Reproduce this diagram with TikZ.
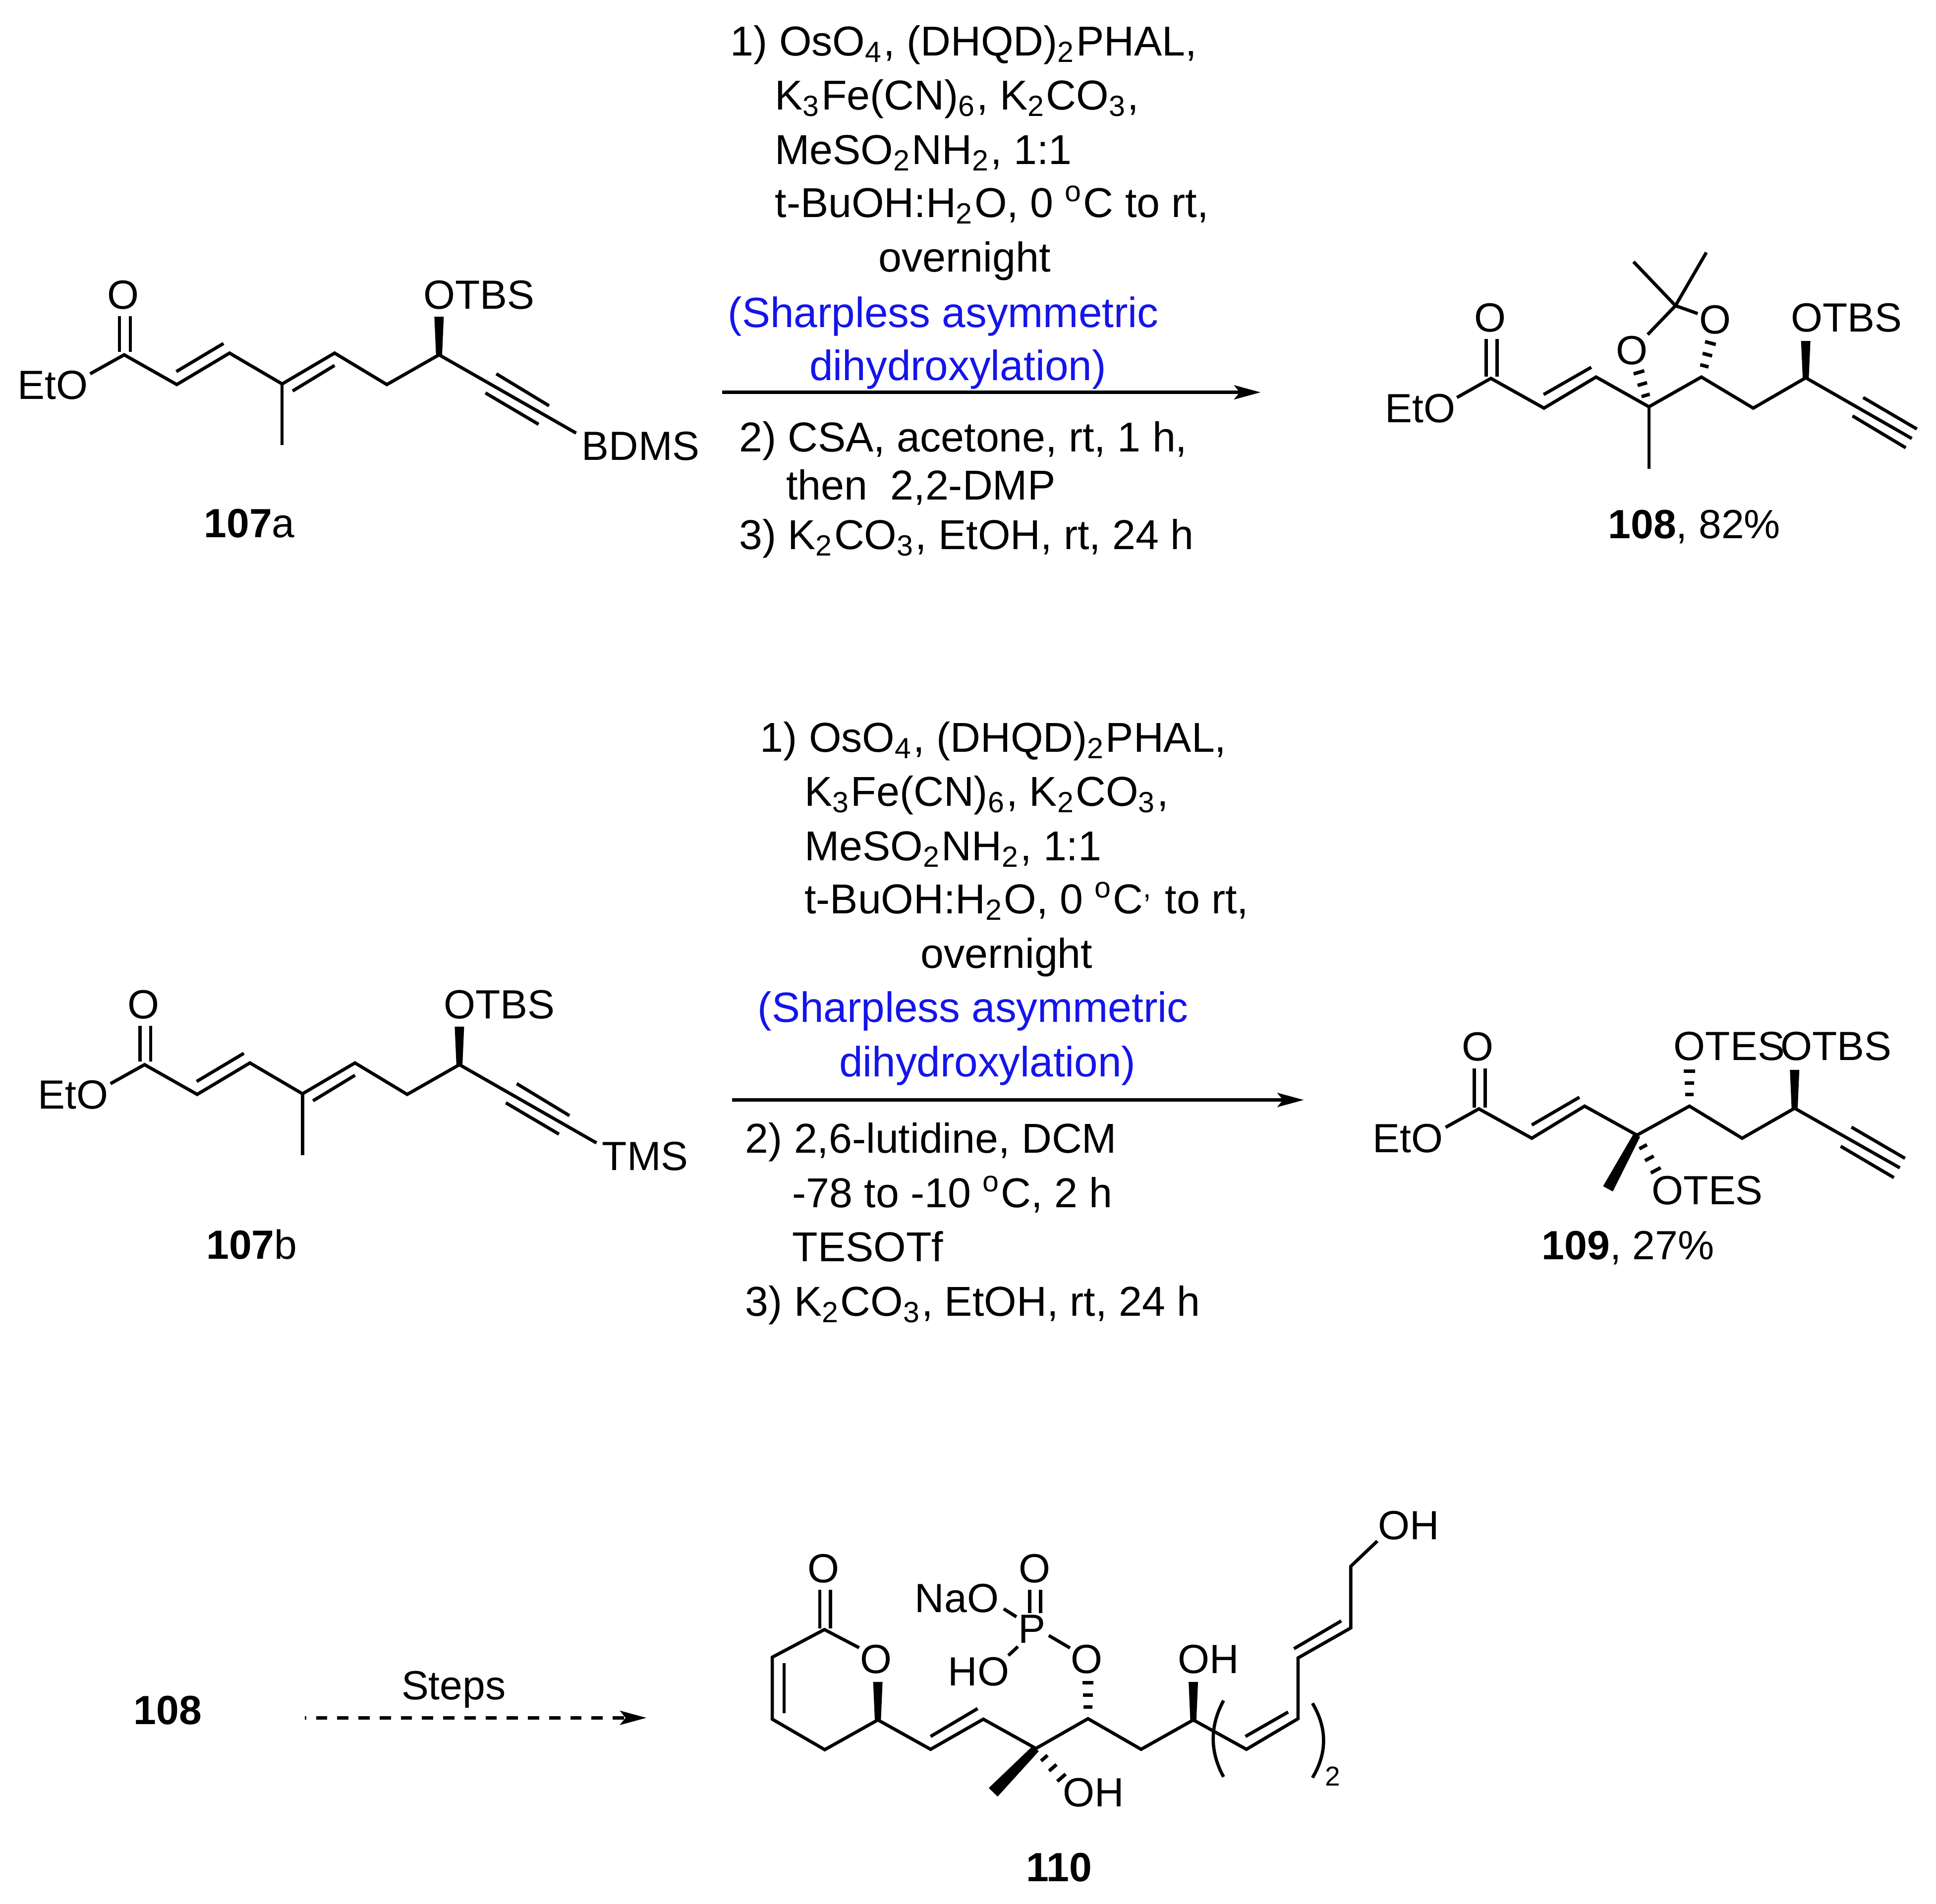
\documentclass[tikz,border=0pt]{standalone}
\usepackage{fontspec}
\setmainfont{Liberation Sans}
\usetikzlibrary{arrows.meta, calc}
\definecolor{bluNote}{RGB}{20,20,235}
\tikzset{
    bond/.style = {line width = 0.75pt},
    hashmark/.style = {line width = 0.8pt},
    atom/.style = {font = \fontsize{9.39}{11}\selectfont, inner sep = 0pt, anchor = base west, xshift = -0.015cm, yshift = 0.003cm},
    reagent/.style = {font = \fontsize{9.62}{11}\selectfont, inner sep = 0pt, anchor = base west, xshift = -0.01cm, yshift = 0.01cm},
    note/.style = {reagent, font = \fontsize{9.75}{11}\selectfont, text = bluNote},
    reaction/.style = {line width = 0.75pt, -{Stealth[length = 0.214cm, width = 0.114cm, inset = 0.045cm]}}
}
% #1 narrow end, #2 wide end, #3 half width
\newcommand{\wedgeBond}[3]{
\fill ($(#2)!#3!90:(#1)$) -- ($(#1)!0.65*#3!-90:(#2)$) -- ($(#1)!0.65*#3!90:(#2)$) -- ($(#2)!#3!-90:(#1)$) -- cycle;
}
% #1 apex, #2 last mark
\newcommand{\hashBond}[2]{
\foreach \frazione in {0.33, 0.66, 1} {
    \pgfmathsetmacro{\semi}{0.03 + 0.015*\frazione}
    \coordinate (hmark) at ($(#1)!\frazione!(#2)$);
    \draw[hashmark] ($(hmark)!\semi cm!90:(#1)$) -- ($(hmark)!\semi cm!-90:(#1)$);
}
}
% #1 name prefix, #2 #3 shift, #4 silyl group, #5 left of its text
\newcommand{\dienyne}[5]{
\begin{scope}[shift = {(#2,#3)}]
    \coordinate (#1co) at (100.6,287.4);
    \coordinate (#1a) at (143.2,311.5);
    \coordinate (#1b) at (185.9,286);
    \coordinate (#1c) at (228.5,311);
    \coordinate (#1d) at (271,286);
    \coordinate (#1e) at (313.3,311.5);
    \coordinate (#1f) at (355.6,287.4);
    \coordinate (#1g) at (466.6,350.8);
    \coordinate (#1me) at (228.5,360.6);
    \coordinate (#1oe) at (73,302.8);
    \coordinate (#1wt) at (355.6,256.6);
    \node[atom] (#1oxo) at (87.8,250.4) {O};
    \node[atom] (#1eto) at (15,323.6) {EtO};
    \node[atom] (#1otbs) at (343.7,250.4) {OTBS};
    \node[atom] (#1si) at (#5,373.2) {#4};
    \draw[bond] (#1oe) -- (#1co) -- (#1a) -- (#1b) -- (#1c) -- (#1d) -- (#1e) -- (#1f) -- (#1g);
    \draw[bond] (#1c) -- (#1me);
    \draw[bond] (96.8,256) -- (96.8,285);
    \draw[bond] (105.6,256) -- (105.6,285);
    \draw[bond] (142.8,301) -- (181,278.2);
    \draw[bond] (237,316.7) -- (271,296);
    \draw[bond] (402,302.8) -- (444.7,328.7);
    \draw[bond] (393.2,318.3) -- (436.2,343.7);
    \wedgeBond{#1f}{#1wt}{0.038cm}
\end{scope}
}
\begin{document}
\begin{tikzpicture}[x = 0.01cm, y = -0.01cm]
    \useasboundingbox (0,0) rectangle (1568,1542);
    % 107a and 107b
    \dienyne{ka}{0}{0}{BDMS}{472}
    \node[atom] (labelka) at (166,435.5) {\textbf{107}a};
    \dienyne{kb}{16.5}{575}{TMS}{472}
    \node[atom] (labelkb) at (168,1020) {\textbf{107}b};
    % first reaction
    \node[reagent] (ra1) at (592,46) {1) OsO\textsubscript{4}, (DHQD)\textsubscript{2}PHAL,};
    \node[reagent] (ra2) at (628,90) {K\textsubscript{3}Fe(CN)\textsubscript{6}, K\textsubscript{2}CO\textsubscript{3},};
    \node[reagent] (ra3) at (628,134) {MeSO\textsubscript{2}NH\textsubscript{2}, 1:1};
    \node[reagent] (ra4) at (628,177) {t-BuOH:H\textsubscript{2}O, 0 \textsuperscript{o}C to rt,};
    \node[reagent] (ra5) at (712,221) {overnight};
    \node[note] (ra6) at (590,266) {(Sharpless asymmetric};
    \node[note] (ra7) at (656,309) {dihydroxylation)};
    \node[reagent] (ra8) at (599,367) {2) CSA, acetone, rt, 1 h,};
    \node[reagent] (ra9) at (637,406) {then\ \ 2,2-DMP};
    \node[reagent] (ra10) at (599,446) {3) K\textsubscript{2}CO\textsubscript{3}, EtOH, rt, 24 h};
    \coordinate (freccia1a) at (585,317.8);
    \coordinate (freccia1b) at (1021,317.8);
    \draw[reaction] (freccia1a) -- (freccia1b);
    % 108
    \coordinate (oc1) at (1207.5,306.5);
    \coordinate (oc2) at (1250.5,330.6);
    \coordinate (oc3) at (1292.7,305.4);
    \coordinate (oc4) at (1335.5,329.5);
    \coordinate (oc5) at (1378,305.4);
    \coordinate (oc6) at (1420,330.6);
    \coordinate (oc7) at (1462.5,306);
    \coordinate (oc8) at (1548.4,355.2);
    \coordinate (ome) at (1335.5,379.8);
    \coordinate (oeto) at (1180,322);
    \coordinate (oketal) at (1357,247.6);
    \coordinate (ome1) at (1323,212);
    \coordinate (ome2) at (1382,204.5);
    \coordinate (okl) at (1334.5,271);
    \coordinate (okr) at (1375,254);
    \coordinate (owt) at (1462.5,276.2);
    \coordinate (ohl) at (1327.4,301.6);
    \coordinate (ohr) at (1385.3,277.9);
    \node[atom] (oxoo) at (1194.7,269.2) {O};
    \node[atom] (oeth) at (1122.6,342.4) {EtO};
    \node[atom] (oxl) at (1309.8,295.4) {O};
    \node[atom] (oxr) at (1377.2,270.5) {O};
    \node[atom] (ootbs) at (1451.2,269.2) {OTBS};
    \node[atom] (labelo) at (1303.3,436.3) {\textbf{108}, 82\%};
    \draw[bond] (oeto) -- (oc1) -- (oc2) -- (oc3) -- (oc4) -- (oc5) -- (oc6) -- (oc7) -- (oc8);
    \draw[bond] (oc4) -- (ome);
    \draw[bond] (okl) -- (oketal) -- (okr);
    \draw[bond] (ome1) -- (oketal) -- (ome2);
    \draw[bond] (1203.6,274.6) -- (1203.6,305);
    \draw[bond] (1212.6,274.6) -- (1212.6,305);
    \draw[bond] (1250.2,319.6) -- (1288.8,297.5);
    \draw[bond] (1509,322) -- (1552.5,347.5);
    \draw[bond] (1500.4,336.9) -- (1543.5,362.7);
    \wedgeBond{oc7}{owt}{0.038cm}
    \hashBond{oc4}{ohl}
    \hashBond{oc5}{ohr}
    % second reaction
    \node[reagent] (rb1) at (616,610) {1) OsO\textsubscript{4}, (DHQD)\textsubscript{2}PHAL,};
    \node[reagent] (rb2) at (652,654) {K\textsubscript{3}Fe(CN)\textsubscript{6}, K\textsubscript{2}CO\textsubscript{3},};
    \node[reagent] (rb3) at (652,698) {MeSO\textsubscript{2}NH\textsubscript{2}, 1:1};
    \node[reagent] (rb4) at (652,741) {t-BuOH:H\textsubscript{2}O, 0 \textsuperscript{o}C\textsuperscript{,} to rt,};
    \node[reagent] (rb5) at (746,785) {overnight};
    \node[note] (rb6) at (614,829) {(Sharpless asymmetric};
    \node[note] (rb7) at (680,873) {dihydroxylation)};
    \node[reagent] (rb8) at (604,935) {2) 2,6-lutidine, DCM};
    \node[reagent] (rb9) at (642,979) {-78 to -10 \textsuperscript{o}C, 2 h};
    \node[reagent] (rb10) at (642,1023) {TESOTf};
    \node[reagent] (rb11) at (604,1067) {3) K\textsubscript{2}CO\textsubscript{3}, EtOH, rt, 24 h};
    \coordinate (freccia2a) at (593,891);
    \coordinate (freccia2b) at (1056,891);
    \draw[reaction] (freccia2a) -- (freccia2b);
    % 109
    \coordinate (nc1) at (1197.8,898.2);
    \coordinate (nc2) at (1240.6,922);
    \coordinate (nc3) at (1283.4,896);
    \coordinate (nc4) at (1325.8,919.5);
    \coordinate (nc5) at (1368.3,896);
    \coordinate (nc6) at (1411,922);
    \coordinate (nc7) at (1453.5,897.7);
    \coordinate (nc8) at (1538.7,946);
    \coordinate (neto) at (1170.8,913.2);
    \coordinate (nwt) at (1453.5,866.6);
    \coordinate (nme) at (1302.3,963);
    \coordinate (nhu) at (1368.3,867.5);
    \coordinate (nhd) at (1341,948);
    \node[atom] (noxo) at (1185,859.7) {O};
    \node[atom] (neth) at (1112.6,933.8) {EtO};
    \node[atom] (notes) at (1356.4,859.2) {OTES};
    \node[atom] (notbs) at (1443,859.2) {OTBS};
    \node[atom] (notesb) at (1338.7,976) {OTES};
    \node[atom] (labeln) at (1249.6,1020.5) {\textbf{109}, 27\%};
    \draw[bond] (neto) -- (nc1) -- (nc2) -- (nc3) -- (nc4) -- (nc5) -- (nc6) -- (nc7) -- (nc8);
    \draw[bond] (1194,865.4) -- (1194,897);
    \draw[bond] (1203,865.4) -- (1203,897);
    \draw[bond] (1240.6,911.3) -- (1279.2,888.8);
    \draw[bond] (1499.5,913) -- (1542.9,938.3);
    \draw[bond] (1490.8,928.5) -- (1533.9,953.9);
    \wedgeBond{nc7}{nwt}{0.038cm}
    \wedgeBond{nc4}{nme}{0.045cm}
    \hashBond{nc5}{nhu}
    \hashBond{nc4}{nhd}
    % 108 to 110
    \node[atom, font = \bfseries\fontsize{9.39}{11}\selectfont] (labelstart) at (109,1397) {108};
    \node[atom] (steps) at (326,1377) {Steps};
    \coordinate (freccia3a) at (247,1391.5);
    \coordinate (freccia3b) at (523.6,1391.5);
    \draw[reaction, dash pattern = on 2.61pt off 2.27pt, dash phase = 2.33pt] (freccia3a) -- (freccia3b);
    % 110
    \coordinate (tco) at (667.7,1320);
    \coordinate (tr1) at (625.5,1342.4);
    \coordinate (tr2) at (625.5,1392.6);
    \coordinate (tr3) at (668,1417.3);
    \coordinate (tr4) at (711,1393.2);
    \coordinate (trO) at (695.8,1334.7);
    \coordinate (twa) at (711,1362.4);
    \coordinate (tc1) at (753.7,1417);
    \coordinate (tc2) at (796.4,1392.6);
    \coordinate (tc3) at (839,1416.3);
    \coordinate (tc4) at (881.2,1392.2);
    \coordinate (tc5) at (924.2,1417);
    \coordinate (tc6) at (966.5,1393.2);
    \coordinate (tc7) at (1009.5,1417);
    \coordinate (tc8) at (1051.3,1392.2);
    \coordinate (tc9) at (1051.3,1343);
    \coordinate (tc10) at (1094,1318.7);
    \coordinate (tc11) at (1094,1268.8);
    \coordinate (tc12) at (1115.5,1248.3);
    \coordinate (twb) at (966.5,1362.4);
    \coordinate (tme) at (804.4,1451.8);
    \coordinate (thu) at (881.2,1363);
    \coordinate (thd) at (859.7,1440);
    \node[atom] (toxo) at (654.9,1282.3) {O};
    \node[atom] (tox) at (697.6,1355.9) {O};
    \node[atom] (toxp) at (825.8,1282.3) {O};
    \node[atom] (tna) at (741.8,1306.4) {NaO};
    \node[atom] (tp) at (825.7,1331.2) {P};
    \node[atom] (tho) at (768.7,1365.6) {HO};
    \node[atom] (tos) at (868,1355.9) {O};
    \node[atom] (tohb) at (955,1355.9) {OH};
    \node[atom] (tohc) at (861.6,1463.6) {OH};
    \node[atom] (toha) at (1117,1247.2) {OH};
    \node[atom, font = \fontsize{6.3}{7}\selectfont] (tdue) at (1074,1447) {2};
    \node[atom, font = \bfseries\fontsize{9.39}{11}\selectfont] (labelt) at (832,1524.3) {110};
    \draw[bond] (trO) -- (tco) -- (tr1) -- (tr2) -- (tr3) -- (tr4) -- (tc1) -- (tc2) -- (tc3) -- (tc4) -- (tc5) -- (tc6) -- (tc7) -- (tc8) -- (tc9) -- (tc10) -- (tc11) -- (tc12);
    \draw[bond] (664,1287.7) -- (664,1319);
    \draw[bond] (672.7,1287.7) -- (672.7,1319);
    \draw[bond] (635,1347.4) -- (635,1387.6);
    \draw[bond] (753.7,1406.6) -- (791.8,1384);
    \draw[bond] (1008.7,1406.6) -- (1043.3,1386.8);
    \draw[bond] (1048,1335.5) -- (1086.3,1313);
    \draw[bond] (834,1287.7) -- (834,1306.5);
    \draw[bond] (842.8,1287.7) -- (842.8,1306.5);
    \draw[bond] (812.9,1303.2) -- (823.2,1309.7);
    \draw[bond] (816.7,1341) -- (824.4,1333.8);
    \draw[bond] (849.4,1324.8) -- (866.6,1334.9);
    \wedgeBond{tr4}{twa}{0.038cm}
    \wedgeBond{tc6}{twb}{0.038cm}
    \wedgeBond{tc3}{tme}{0.05cm}
    \hashBond{tc4}{thu}
    \hashBond{tc3}{thd}
    % parentheses
    \draw[bond] (991,1377.5) .. controls (979.8,1398) and (979.8,1419) .. (991,1439.3);
    \draw[bond] (1063,1379.7) .. controls (1075,1400) and (1075,1420) .. (1063,1440);
\end{tikzpicture}
\end{document}
